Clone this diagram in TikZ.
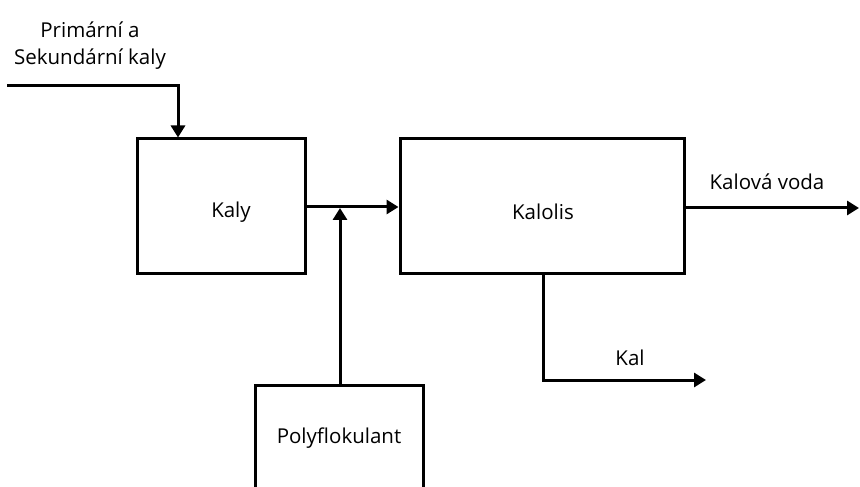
\documentclass[tikz,border=0pt]{standalone}
\usepackage{fontspec}
\setmainfont{Open Sans}
\usetikzlibrary{arrows.meta}
\begin{document}
\begin{tikzpicture}[x=1bp,y=-1bp,
  every node/.style={font=\fontsize{20.5bp}{27bp}\selectfont, text=black},
  blok/.style={draw=black, line width=3bp, inner sep=0pt},
  flow/.style={line width=3bp, -{Triangle[length=12bp,width=14bp]}}]
  \useasboundingbox (0,0) rectangle (860,487);
  \clip (0,0) rectangle (860,487);

  % process blocks
  \node[blok, minimum width=168bp, minimum height=134bp] (kaly) at (221,206) {};
  \node at (231,212) (kalytext) {Kaly};
  \node[blok, minimum width=284bp, minimum height=134bp] (kalolis) at (542,206) {};
  \node at (543,212) (kalolistext) {Kalolis};
  \node[blok, minimum width=168bp, minimum height=134bp] (poly) at (339,452) {};
  \node at (339,438) (polytext) {Polyflokulant};

  % feed of sludge
  \node[align=center] (feed) at (90,46) {Primární a\\Sekundární kaly};
  \coordinate (feedstart) at (7,86);
  \coordinate (feedbend) at (178,86);
  \draw[flow] (feedstart) -- (feedbend) -- (feedbend |- kaly.north);

  % sludge to the press
  \coordinate (kalyout) at (kaly.east |- 0,207);
  \draw[flow] (kalyout) -- (kalolis.west |- kalyout);

  % polyflocculant dosing
  \coordinate (dose) at (340,208);
  \draw[flow] (poly.north -| dose) -- (dose);

  % sludge water outlet
  \coordinate (waterout) at (859,208);
  \draw[flow] (kalolis.east |- waterout) -- (waterout);
  \node (voda) at (767,182) {Kalová voda};

  % dewatered sludge outlet
  \coordinate (kalbend) at (543,380);
  \coordinate (kalout) at (706,380);
  \draw[flow] (kalbend |- kalolis.south) -- (kalbend) -- (kalout);
  \node (kal) at (630,358) {Kal};
\end{tikzpicture}
\end{document}
